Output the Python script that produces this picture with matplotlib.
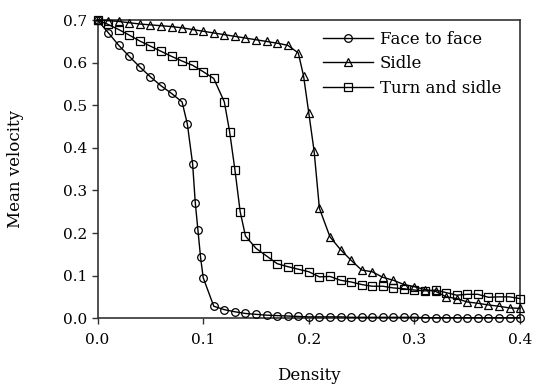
import matplotlib
matplotlib.use("Agg")
import matplotlib.pyplot as plt
import numpy as np

plt.rcParams.update({"font.family": "DejaVu Serif", "font.size": 11})

# Face to face
ftf_x = [0.00, 0.01, 0.02, 0.03, 0.04, 0.05, 0.06, 0.07, 0.08, 0.085, 0.09,
         0.0925, 0.095, 0.0975, 0.10, 0.11, 0.12, 0.13, 0.14, 0.15, 0.16, 0.17,
         0.18, 0.19, 0.20, 0.21, 0.22, 0.23, 0.24, 0.25, 0.26, 0.27, 0.28,
         0.29, 0.30, 0.31, 0.32, 0.33, 0.34, 0.35, 0.36, 0.37, 0.38, 0.39, 0.40]
ftf_v = [0.700, 0.671, 0.641, 0.615, 0.590, 0.567, 0.546, 0.528, 0.508, 0.456,
         0.362, 0.271, 0.207, 0.143, 0.095, 0.028, 0.020, 0.015, 0.011, 0.009,
         0.007, 0.006, 0.005, 0.004, 0.003, 0.003, 0.003, 0.003, 0.002, 0.002,
         0.002, 0.002, 0.002, 0.002, 0.002, 0.001, 0.001, 0.001, 0.001, 0.001,
         0.001, 0.001, 0.001, 0.001, 0.001]

# Sidle
sid_x = [0.00, 0.01, 0.02, 0.03, 0.04, 0.05, 0.06, 0.07, 0.08, 0.09, 0.10,
         0.11, 0.12, 0.13, 0.14, 0.15, 0.16, 0.17, 0.18, 0.19, 0.195, 0.20,
         0.205, 0.21, 0.22, 0.23, 0.24, 0.25, 0.26, 0.27, 0.28, 0.29, 0.30,
         0.31, 0.32, 0.33, 0.34, 0.35, 0.36, 0.37, 0.38, 0.39, 0.40]
sid_v = [0.700, 0.699, 0.697, 0.694, 0.691, 0.689, 0.687, 0.685, 0.682, 0.678,
         0.674, 0.670, 0.666, 0.662, 0.658, 0.654, 0.650, 0.646, 0.641, 0.623,
         0.569, 0.481, 0.392, 0.258, 0.191, 0.161, 0.136, 0.113, 0.109, 0.096,
         0.089, 0.079, 0.074, 0.067, 0.063, 0.050, 0.046, 0.038, 0.035, 0.031,
         0.028, 0.024, 0.023]

# Turn and sidle
tas_x = [0.00, 0.01, 0.02, 0.03, 0.04, 0.05, 0.06, 0.07, 0.08, 0.09, 0.10,
         0.11, 0.12, 0.125, 0.13, 0.135, 0.14, 0.15, 0.16, 0.17, 0.18, 0.19,
         0.20, 0.21, 0.22, 0.23, 0.24, 0.25, 0.26, 0.27, 0.28, 0.29, 0.30,
         0.31, 0.32, 0.33, 0.34, 0.35, 0.36, 0.37, 0.38, 0.39, 0.40]
tas_v = [0.700, 0.690, 0.678, 0.665, 0.651, 0.639, 0.627, 0.615, 0.604, 0.594,
         0.579, 0.563, 0.508, 0.438, 0.349, 0.250, 0.193, 0.164, 0.146, 0.128,
         0.121, 0.115, 0.109, 0.097, 0.098, 0.089, 0.085, 0.079, 0.075, 0.075,
         0.071, 0.069, 0.066, 0.064, 0.066, 0.060, 0.054, 0.056, 0.056, 0.049,
         0.050, 0.050, 0.046]

fig = plt.figure(figsize=(5.39, 3.88), dpi=100)
ax = fig.add_axes([0.181, 0.180, 0.784, 0.768])

style = dict(color="black", lw=1.0, mfc="none", mec="black", mew=0.9,
             ms=5.5, clip_on=False, zorder=3)
ax.plot(ftf_x, ftf_v, marker="o", label="Face to face", **style)
ax.plot(sid_x, sid_v, marker="^", label="Sidle", **style)
ax.plot(tas_x, tas_v, marker="s", label="Turn and sidle", **style)

ax.set_xlim(0, 0.4)
ax.set_ylim(0, 0.7)
ax.set_xticks(np.arange(0, 0.41, 0.1))
ax.set_yticks(np.arange(0, 0.71, 0.1))
ax.xaxis.set_major_formatter(plt.FormatStrFormatter("%.1f"))
ax.yaxis.set_major_formatter(plt.FormatStrFormatter("%.1f"))
ax.tick_params(direction="out", length=4, width=1.0, color="#333333",
               labelsize=11)
ax.tick_params(axis="x", pad=7)
for s in ax.spines.values():
    s.set_linewidth(1.2)
    s.set_color("#333333")

ax.set_xlabel("Density", fontsize=12, labelpad=14)
ax.set_ylabel("Mean velocity", fontsize=12, labelpad=28)
ax.legend(loc="upper right", frameon=False, fontsize=12, handlelength=3.0,
          handletextpad=0.4, labelspacing=0.45, borderaxespad=0.5,
          bbox_to_anchor=(0.99, 1.015))

fig.savefig("out.png", dpi=100, facecolor="white")
